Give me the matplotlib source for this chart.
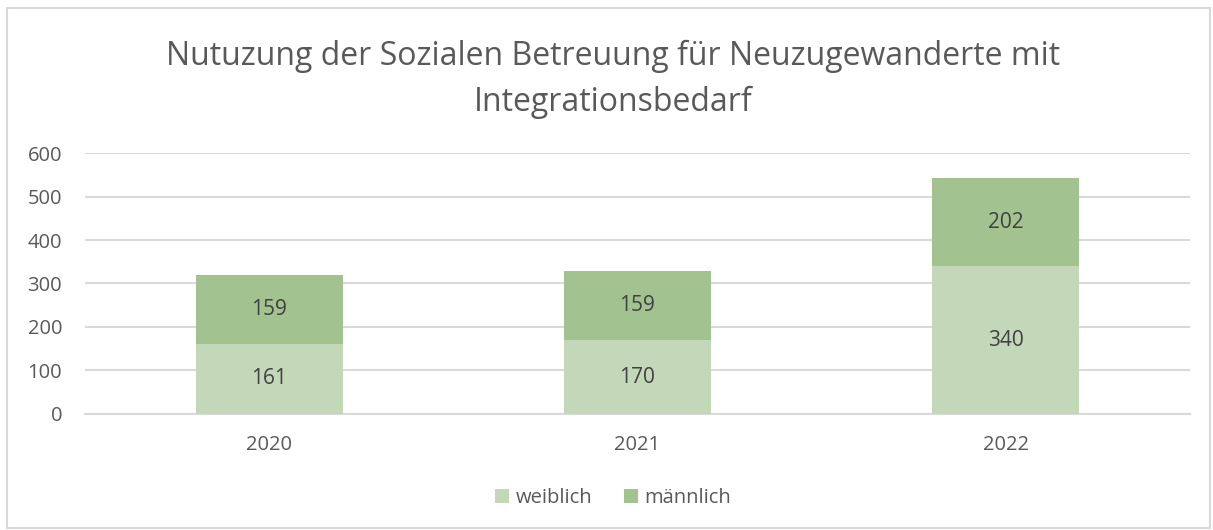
import matplotlib.pyplot as plt
from matplotlib.patches import Rectangle

years = ["2020", "2021", "2022"]
weiblich = [161, 170, 340]
maennlich = [159, 159, 202]
yticks = [0, 100, 200, 300, 400, 500, 600]

plt.rcParams['font.family'] = ['Open Sans', 'DejaVu Sans']

c_w = "#c3d7b9"
c_m = "#a2c390"
txt = "#595959"

fig = plt.figure(figsize=(12.13, 5.30), dpi=100)
ax = fig.add_axes([0.0701, 0.2189, 0.9109, 0.4924])

x = range(len(years))
b1 = ax.bar(x, weiblich, width=0.4, color=c_w, label="weiblich", zorder=3)
b2 = ax.bar(x, maennlich, width=0.4, bottom=weiblich, color=c_m, label="männlich", zorder=3)

for i in x:
    ax.text(i, weiblich[i] / 2, str(weiblich[i]), ha="center", va="center",
            fontsize=15, color="#404040", zorder=4)
    ax.text(i, weiblich[i] + maennlich[i] / 2, str(maennlich[i]), ha="center",
            va="center", fontsize=15, color="#404040", zorder=4)

ax.set_xlim(-0.5, 2.5)
ax.set_ylim(0, 600)
ax.set_yticks(yticks)
ax.set_xticks(list(x))
ax.set_xticklabels(years)
ax.tick_params(axis="both", length=0, labelsize=14.5, colors=txt)
ax.tick_params(axis="y", pad=16.5)
ax.tick_params(axis="x", pad=15)
ax.grid(axis="y", color="#d9d9d9", linewidth=1.5, zorder=0)
for s in ["top", "right", "left"]:
    ax.spines[s].set_visible(False)
ax.spines["bottom"].set_color("#d9d9d9")
ax.spines["bottom"].set_linewidth(1.5)

fig.text(0.5055, 0.851, "Nutuzung der Sozialen Betreuung für Neuzugewanderte mit\nIntegrationsbedarf",
         ha="center", va="center", fontsize=23, color=txt, linespacing=1.5)

fig.legend(handles=[b1, b2], loc="center", bbox_to_anchor=(0.5055, 0.060), ncol=2,
           frameon=False, fontsize=14.5, labelcolor=txt, handlelength=0.7,
           handleheight=0.7, handletextpad=0.3, columnspacing=1.6)

fig.add_artist(Rectangle((7 / 1213, 2 / 530), 1203 / 1213, 520 / 530, transform=fig.transFigure,
                         fill=False, edgecolor="#d9d9d9", linewidth=1.5))

fig.savefig("out.png", dpi=100)
